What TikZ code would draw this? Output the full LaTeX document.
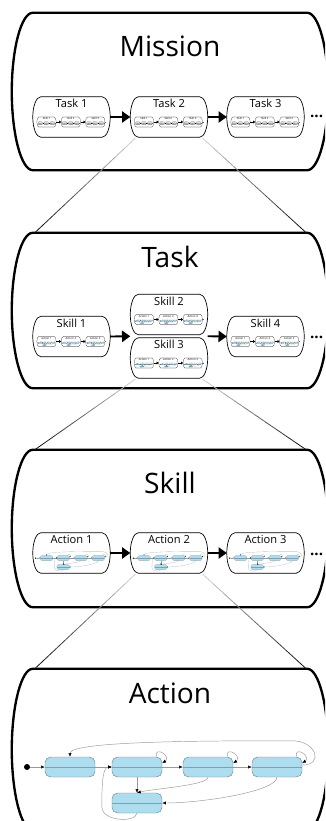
\documentclass[tikz,border=0pt]{standalone}
\usepackage{fontspec}
\setmainfont{Open Sans}
\usetikzlibrary{calc,arrows.meta}
\definecolor{statefill}{HTML}{AEDDF0}
\definecolor{stateline}{HTML}{71858F}
\definecolor{statemid}{HTML}{7FA2B2}
\newcommand{\lw}{0.4}
\tikzset{
  panelbox/.style={inner sep=0pt, minimum width=316*0.03cm, minimum height=#1*0.03cm},
  sub/.style={inner sep=0pt, minimum width=77*0.03cm, minimum height=40*0.03cm},
  rim/.style={draw=black, line width=5pt*\lw},
  subrim/.style={draw=black, line width=1.5pt*\lw},
  heading/.style={anchor=base, font=\fontsize{24}{28}\selectfont},
  sublabel/.style={anchor=base, font=\fontsize{9.5}{11}\selectfont},
  more/.style={anchor=base west, font=\bfseries\fontsize{13}{14}\selectfont},
  seq/.style={draw=black, line width=4pt*\lw, -{Triangle[length=0pt 4.4,width=0pt 6]}},
  tail/.style={draw=black!60, line width=1pt*\lw},
  flow/.style={draw=black!40, line width=1pt*\lw, -{Latex[length=0pt 8,width=0pt 7,color=black]}},
  statebox/.style={draw=stateline, fill=statefill, line width=1pt*\lw,
    rounded corners=12pt*\lw, inner sep=0pt,
    minimum width=50*0.03cm, minimum height=20*0.03cm,
    path picture={\draw[statemid, line width=1pt*\lw]
      (path picture bounding box.west) -- (path picture bounding box.east);}},
  startdot/.style={circle, fill=black, inner sep=0pt, minimum size=6*0.03cm}
}
% barrel outline round a node: node, corner, bulge, style
\newcommand{\barrel}[4]{%
  \draw[#4] ($(#1.north west)+(#2,0)$) -- ($(#1.north east)+(-#2,0)$)
    .. controls +(0.55*#2,0) and +(0,-#3) .. (#1.east)
    .. controls +(0,#3) and +(0.55*#2,0) .. ($(#1.south east)+(-#2,0)$)
    -- ($(#1.south west)+(#2,0)$)
    .. controls +(-0.55*#2,0) and +(0,#3) .. (#1.west)
    .. controls +(0,-#3) and +(-0.55*#2,0) .. ($(#1.north west)+(#2,0)$) -- cycle;}
% big level frame: name, centre y, height, title, baseline
\newcommand{\panel}[5]{%
  \node[panelbox=#3] (#1) at (170,#2) {};
  \barrel{#1}{21}{#3*0.27}{rim}
  \node[heading] (#1t) at (170,#5) {#4};}
% small box with its level shrunk inside: name, centre, label, contents
\newcommand{\subbox}[4]{%
  \node[sub] (#1) at (#2) {};
  \barrel{#1}{8}{11}{subrim}
  \node[sublabel] (#1l) at ($(#1.north)+(0,11)$) {#3};
  \begin{scope}[shift={($(#1.center)+(-25,5)$)}, scale=0.25, transform shape]
    \pgfmathsetmacro{\lw}{\lw*0.25}
    #4{#1}
  \end{scope}}
% state machine of an action, origin at first state
\newcommand{\statechart}[1]{%
  \node[startdot] (#1s0) at (-43,0) {};
  \node[statebox] (#1s1) at (0,0) {};
  \node[statebox] (#1s2) at (67,0) {};
  \node[statebox] (#1s3) at (138,0) {};
  \node[statebox] (#1s4) at (207,0) {};
  \node[statebox] (#1s5) at (67,36) {};
  \draw[flow] (#1s0) -- (#1s1);
  \draw[flow] (#1s1) -- (#1s2);
  \draw[flow] (#1s2) -- (#1s3);
  \draw[flow] (#1s3) -- (#1s4);
  \draw[flow] (#1s2) -- (#1s5);
  \draw[flow] ($(#1s2.north east)+(-6,0)$) .. controls +(-2,-12) and +(10,-6) .. ($(#1s2.east)+(0,-4)$);
  \draw[flow] ($(#1s3.north east)+(-6,0)$) .. controls +(-2,-12) and +(10,-6) .. ($(#1s3.east)+(0,-4)$);
  \draw[flow] ($(#1s4.north east)+(-6,0)$) .. controls +(-2,-12) and +(10,-6) .. ($(#1s4.east)+(0,-4)$);
  \draw[flow] ($(#1s4.east)+(0,-2)$) .. controls +(22,0) and +(24,0) .. ($(#1s4.north east)+(-10,-16)$)
    .. controls +(-80,0) and +(0,-16) .. (#1s1.north);
  \draw[flow] (#1s3.south) .. controls +(0,8) and +(16,-4) .. (#1s5.north);
  \draw[flow] (#1s4.south) .. controls +(0,14) and +(40,0) .. (#1s5.east);
  \draw[flow] (#1s5.south) .. controls +(-2,10) and +(0,14) .. ($(#1s2.west)+(-10,40)$)
    .. controls +(0,-30) and +(-8,0) .. (#1s2.west);}
\newcommand{\actrow}[1]{%
  \subbox{#1a1}{0,0}{Action 1}{\statechart}
  \subbox{#1a2}{97.5,0}{Action 2}{\statechart}
  \subbox{#1a3}{195,0}{Action 3}{\statechart}
  \draw[seq] (#1a1) -- (#1a2);
  \draw[seq] (#1a2) -- (#1a3);
  \draw[tail] (#1a3.east) -- +(5,0);}
\newcommand{\skillrow}[1]{%
  \subbox{#1k1}{0,0}{Skill 1}{\actrow}
  \subbox{#1k2}{97.5,0}{Skill 2}{\actrow}
  \subbox{#1k3}{195,0}{Skill 3}{\actrow}
  \draw[seq] (#1k1) -- (#1k2);
  \draw[seq] (#1k2) -- (#1k3);
  \draw[tail] (#1k3.east) -- +(5,0);}
% fading zoom line between two named points
\newcommand{\zoomline}[2]{%
  \foreach \i in {0,...,9}{%
    \pgfmathtruncatemacro{\tone}{20+8*\i}
    \draw[black!\tone, line width=0.7pt] ($(#1)!\i/10!(#2)$) -- ($(#1)!\i/10+0.1!(#2)$);}}

\begin{document}
\begin{tikzpicture}[x=0.03cm, y=-0.03cm]
  \path[use as bounding box, clip] (0,0) rectangle (325,821);

  % Mission
  \panel{p1}{91.5}{157}{Mission}{57}
  \subbox{t1}{71.5,117}{Task 1}{\skillrow}
  \subbox{t2}{169,117}{Task 2}{\skillrow}
  \subbox{t3}{265.5,117}{Task 3}{\skillrow}
  \draw[seq] (t1) -- (t2);
  \draw[seq] (t2) -- (t3);
  \node[more] (d1) at (306,118) {...};

  % Task
  \panel{p2}{310.5}{155}{Task}{267}
  \subbox{k1}{71.5,336.5}{Skill 1}{\actrow}
  \subbox{k2}{169,314.5}{Skill 2}{\actrow}
  \subbox{k3}{169,358}{Skill 3}{\actrow}
  \subbox{k4}{265.5,336.5}{Skill 4}{\actrow}
  \coordinate (g1) at ($(k2.south west)!0.5!(k3.north west)$);
  \coordinate (g2) at ($(k2.south east)!0.5!(k3.north east)$);
  \draw[seq] (k1.east) -- (g1);
  \draw[seq] (g2) -- (k4.west);
  \node[more] (d2) at (306,338) {...};

  % Skill
  \panel{p3}{528.5}{157}{Skill}{493}
  \subbox{c1}{71.5,553}{Action 1}{\statechart}
  \subbox{c2}{169,553}{Action 2}{\statechart}
  \subbox{c3}{265.5,553}{Action 3}{\statechart}
  \draw[seq] (c1) -- (c2);
  \draw[seq] (c2) -- (c3);
  \node[more] (d3) at (306,555) {...};

  % Action
  \panel{p4}{749.5}{161}{Action}{703}
  \begin{scope}[shift={(70,767)}]
    \statechart{}
  \end{scope}

  % zoom lines
  \coordinate (z1) at ($(t2.south west)+(5,1)$);
  \coordinate (z2) at ($(t2.south east)+(-5,1)$);
  \coordinate (z3) at ($(p2.north west)+(23,0)$);
  \coordinate (z4) at ($(p2.north east)+(-22,0)$);
  \zoomline{z1}{z3}
  \zoomline{z2}{z4}
  \coordinate (z5) at ($(k3.south west)+(5,1)$);
  \coordinate (z6) at ($(k3.south east)+(-5,1)$);
  \coordinate (z7) at ($(p3.north west)+(23,0)$);
  \coordinate (z8) at ($(p3.north east)+(-22,0)$);
  \zoomline{z5}{z7}
  \zoomline{z6}{z8}
  \coordinate (z9) at ($(c2.south west)+(5,1)$);
  \coordinate (z10) at ($(c2.south east)+(-5,1)$);
  \coordinate (z11) at ($(p4.north west)+(23,0)$);
  \coordinate (z12) at ($(p4.north east)+(-22,0)$);
  \zoomline{z9}{z11}
  \zoomline{z10}{z12}
\end{tikzpicture}
\end{document}
